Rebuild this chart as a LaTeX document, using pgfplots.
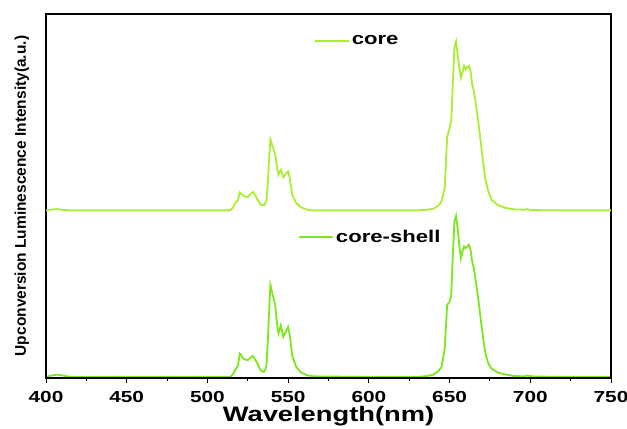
\documentclass[border=0pt]{standalone}
\usepackage{pgfplots}
\pgfplotsset{compat=1.18}
\usepackage{fontspec}
\setmainfont{Liberation Sans}
\newfontfamily\wide[FakeStretch=1.3]{Liberation Sans}
\definecolor{corecol}{RGB}{170,238,50}
\definecolor{shellcol}{RGB}{122,232,28}
\pgfplotsset{
  base/.style={
    scale only axis, width=565pt, height=364pt,
    xmin=400, xmax=750, ymin=0, ymax=1088,
    legend style={draw=none, fill=none, font=\wide\bfseries\fontsize{17}{17}\selectfont, inner sep=0pt},
    legend cell align=left,
    legend image code/.code={\draw[#1] (0pt,0pt) -- (34pt,0pt);},
  }
}
\begin{document}
\begin{tikzpicture}
\begin{axis}[base, hide axis,
  legend style={at={(0.446,0.387)}, anchor=west},
]
\addplot[shellcol, line width=1.8pt] coordinates {
(400,3)(404,8)(407,10)(410,8)(412,6)(415,3)(450,3)(500,3)(514,3)(516,12)(517,23)(519,38)(520,73)(521,68)(522,58)(525,53)(527,62)(528,66)(529,60)(531,43)(533,23)(535,18)(536.5,33)(537.5,120)(538,178)(539,278)(540,258)(541,238)(542,218)(543,168)(544,133)(545.5,158)(547,123)(548.5,138)(550,153)(551,128)(552.5,68)(555,33)(558,16)(562,8)(565,5)(600,3)(630,3)(636,6)(640,10)(643,20)(645,33)(647,88)(648.5,218)(650,228)(651,248)(652,368)(653,468)(654,485)(655,448)(656,398)(657,358)(658,378)(659,393)(660,388)(661,393)(662,398)(663,383)(664,348)(665,328)(666,298)(668,228)(670,148)(672,78)(674,43)(676,28)(680,16)(685,10)(690,6)(697,5)(698,8)(700,5)(720,3)(750,3)
};
\addlegendentry{core-shell}
\end{axis}
\begin{axis}[base,
  axis line style={draw=black, line width=1.3pt},
  axis background/.style={draw=black, line width=1.3pt},
  xtick={400,450,...,750}, minor xtick={425,475,...,725},
  tick align=outside, xtick pos=bottom, ytick=\empty,
  major tick length=5pt, minor tick length=3pt,
  tick style={line width=1pt, black},
  /pgf/number format/assume math mode=true,
  /pgf/number format/set thousands separator={},
  ticklabel style={font=\wide\bfseries\fontsize{16}{16}\selectfont, yshift=-5pt},
  xlabel={Wavelength(nm)},
  xlabel style={font=\wide\bfseries\fontsize{21}{21}\selectfont, yshift=3pt},
  ylabel={Upconversion Luminescence Intensity(a.u.)},
  every axis y label/.style={at={(axis description cs:-0.0425,0.5)}, anchor=center, rotate=90,
     font=\bfseries\fontsize{15.5}{15.5}\selectfont},
  legend style={at={(0.474,0.926)}, anchor=west},
]
\addplot[corecol, line width=1.8pt] coordinates {
(400,501)(404,504)(407,505)(410,503)(414,501)(450,501)(500,501)(514,501)(516,510)(517,523)(519,532)(520,555)(521,550)(523,543)(525,541)(527,551)(528,556)(529,552)(531,533)(533,518)(535,516)(536.5,528)(537.5,590)(538,638)(539,713)(540,698)(541,683)(542,668)(543,633)(544,608)(545.5,623)(547,600)(548.5,610)(550,618)(551,598)(552.5,548)(555,523)(558,510)(562,503)(565,501)(600,501)(630,501)(636,503)(640,506)(643,515)(645,528)(647,568)(648.5,720)(650,748)(651,768)(652,878)(653,988)(654,1006)(655,968)(656,928)(657,898)(658,913)(659,933)(660,923)(661,930)(662,933)(663,918)(664,878)(665,858)(666,828)(668,758)(670,678)(672,598)(674,558)(676,533)(680,516)(685,508)(690,504)(697,503)(698,505)(700,502)(720,501)(750,501)
};
\addlegendentry{core}
\end{axis}
\pgfresetboundingbox
\path[use as bounding box] ([xshift=-46pt,yshift=-50pt]current axis.south west) rectangle ([xshift=16pt,yshift=14pt]current axis.north east);
\end{tikzpicture}
\end{document}
